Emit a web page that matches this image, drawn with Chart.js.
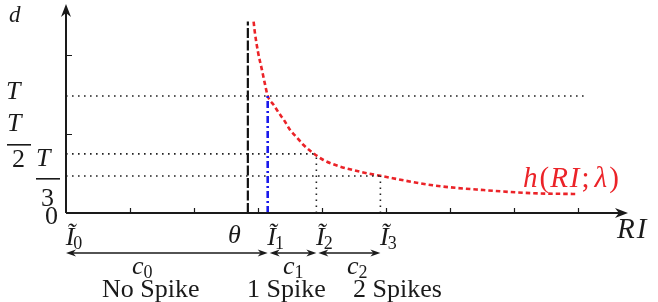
<!DOCTYPE html>
<html>
<head>
<meta charset="utf-8">
<script src="https://cdn.jsdelivr.net/npm/chart.js@4.4.1/dist/chart.umd.min.js"></script>
<style>
  body { margin: 0; background: #fff; }
  canvas { display: block; }
</style>
</head>
<body>
<canvas id="grafico" width="658" height="302"></canvas>
<script>
const grafico_canvas = document.getElementById("grafico");

// curva h(RI; lambda)
const curveX = [2.93, 2.95, 3.0, 3.06, 3.11, 3.15, 3.24, 3.32, 3.4, 3.5, 3.61, 3.71, 3.84, 4.02, 4.23, 4.6, 4.91, 5.73, 6.52, 7.3, 7.98];
const curveY = [2.42, 2.28, 2.03, 1.81, 1.62, 1.48, 1.37, 1.27, 1.18, 1.05, 0.95, 0.86, 0.77, 0.67, 0.6, 0.52, 0.47, 0.35, 0.29, 0.25, 0.24];

// marcas del eje x
const markNames = ["Ĩ0", "θ", "Ĩ1", "Ĩ2", "Ĩ3"];
const markValues = [0, 2.84, 3.15, 3.91, 4.91];
const thetaTop = 2.42;

// niveles del eje d
const levelNames = ["T", "T/2", "T/3"];
const levelValues = [1.48, 0.747, 0.468];
const levelEnds = [8.14, 3.91, 4.91];

// regiones
const regionStart = [0, 3.15, 3.91];
const regionEnd = [3.15, 3.91, 4.91];
const regionNames = ["c0", "c1", "c2"];
const regionTexts = ["No Spike", "1 Spike", "2 Spikes"];

const xTicks = [1, 2, 3, 4, 5, 6, 7, 8];
const yTicks = [1, 2];

const SERIF = '"Liberation Serif", "Times New Roman", "DejaVu Serif", serif';
const dotted = { borderColor: "#222", borderWidth: 1.6, borderDash: [1.6, 4.4], pointRadius: 0, showLine: true, fill: false };

const datasets = [];

// lineas punteadas de nivel
levelValues.forEach((v, i) => {
  datasets.push(Object.assign({ data: [{ x: 0, y: v }, { x: levelEnds[i], y: v }] }, dotted));
});
// verticales punteadas en I2, I3
[3, 4].forEach((k) => {
  datasets.push(Object.assign({ data: [{ x: markValues[k], y: 0 }, { x: markValues[k], y: levelValues[k - 2] }] }, dotted));
});
// theta
datasets.push({
  data: [{ x: markValues[1], y: 0 }, { x: markValues[1], y: thetaTop }],
  borderColor: "#111", borderWidth: 2.2, borderDash: [10, 2.5], pointRadius: 0, showLine: true,
});
// I1 azul
datasets.push({
  data: [{ x: markValues[2], y: 0 }, { x: markValues[2], y: levelValues[0] }],
  borderColor: "rgb(25,25,235)", borderWidth: 2.6, borderDash: [7, 3, 2, 3], pointRadius: 0, showLine: true,
});
// curva roja
datasets.push({
  data: curveX.map((x, i) => ({ x: x, y: curveY[i] })),
  borderColor: "rgb(235,35,40)", borderWidth: 2.6, borderDash: [4.5, 3], pointRadius: 0,
  showLine: true, cubicInterpolationMode: "monotone",
});

const arrowHead = (ctx, x, y, dir, len, half) => {
  ctx.save();
  ctx.translate(x, y);
  ctx.rotate(dir);
  ctx.beginPath();
  ctx.moveTo(0, 0);
  ctx.lineTo(-len, -half);
  ctx.lineTo(-len * 0.7, 0);
  ctx.lineTo(-len, half);
  ctx.closePath();
  ctx.fill();
  ctx.restore();
};

const drawParts = (ctx, x, y, parts) => {
  // parts: [texto, fuente, dy, extra]
  let cx = x;
  parts.forEach((p) => {
    ctx.font = p[1];
    ctx.fillText(p[0], cx, y + (p[2] || 0));
    cx += ctx.measureText(p[0]).width + (p[3] || 0);
  });
};

const decor = {
  id: "decor",
  afterDraw(chart) {
    const ctx = chart.ctx;
    const sx = chart.scales.x;
    const sy = chart.scales.y;
    const x0 = sx.getPixelForValue(0);
    const y0 = sy.getPixelForValue(0);
    const it = "italic 26px " + SERIF;
    const rm = "26px " + SERIF;
    const it29 = "italic 29px " + SERIF;
    const rm29 = "29px " + SERIF;
    const sub = "18px " + SERIF;
    ctx.save();
    ctx.fillStyle = "#1a1a1a";
    ctx.strokeStyle = "#1a1a1a";
    ctx.lineWidth = 2;
    ctx.setLineDash([]);

    // ejes
    ctx.beginPath();
    ctx.moveTo(x0, y0);
    ctx.lineTo(622, y0);
    ctx.moveTo(x0, y0);
    ctx.lineTo(x0, 10);
    ctx.stroke();
    arrowHead(ctx, 628, y0, 0, 13, 5);
    arrowHead(ctx, x0, 4, -Math.PI / 2, 13, 5);

    // ticks
    ctx.lineWidth = 1.2;
    ctx.beginPath();
    xTicks.forEach((t) => {
      const px = Math.round(sx.getPixelForValue(t)) + 0.5;
      ctx.moveTo(px, y0);
      ctx.lineTo(px, y0 - 5);
    });
    yTicks.forEach((t) => {
      const py = Math.round(sy.getPixelForValue(t)) + 0.5;
      ctx.moveTo(x0, py);
      ctx.lineTo(x0 + 6, py);
    });
    ctx.stroke();

    // etiquetas eje d
    ctx.textBaseline = "alphabetic";
    ctx.textAlign = "left";
    ctx.font = "italic 23px " + SERIF;
    ctx.fillText("d", 9, 22);
    const yT = sy.getPixelForValue(levelValues[0]);
    ctx.font = it;
    ctx.fillText(levelNames[0], 6, yT + 3);
    // T/2
    ctx.fillText("T", 7, 131);
    ctx.fillRect(7, 144, 24, 1.6);
    ctx.font = rm;
    ctx.fillText("2", 12, 167);
    // T/3
    ctx.font = it;
    ctx.fillText("T", 36, 166);
    ctx.fillRect(36, 178, 24, 1.6);
    ctx.font = rm;
    ctx.fillText("3", 41, 206);
    ctx.fillText("0", 45, 224);

    // etiquetas eje x
    markNames.forEach((name, i) => {
      const px = sx.getPixelForValue(markValues[i]);
      ctx.font = it;
      if (name === "θ") {
        ctx.textAlign = "right";
        ctx.fillText(name, px - 7, 243);
        ctx.textAlign = "left";
      } else {
        const w = ctx.measureText("Ĩ").width;
        const left = px + 4 - w / 2;
        drawParts(ctx, left, 245, [["Ĩ", it, 0, -1], [name.slice(1), sub, 4]]);
      }
    });
    drawParts(ctx, 617, 238, [["R", it29, 0, 2], ["I", it29]]);

    // h(RI; lambda)
    ctx.fillStyle = "rgb(235,35,40)";
    drawParts(ctx, 523, 187, [["h", it29, 0, 2], ["(", rm29, 0, 1], ["R", it29, 0, 2], ["I", it29, 0, 2], [";", rm29, 0, 5], ["λ", it29, 0, 2], [")", rm29]]);

    // regiones
    ctx.fillStyle = "#1a1a1a";
    ctx.strokeStyle = "#1a1a1a";
    ctx.lineWidth = 1.6;
    const ya = 253;
    regionStart.forEach((s, i) => {
      const a = sx.getPixelForValue(s) + (i > 0 ? 2 : 0);
      const b = sx.getPixelForValue(regionEnd[i]);
      ctx.beginPath();
      ctx.moveTo(a + 4, ya);
      ctx.lineTo(b - 4, ya);
      ctx.stroke();
      arrowHead(ctx, a, ya, Math.PI, 10, 3.5);
      arrowHead(ctx, b, ya, 0, 10, 3.5);
    });
    const cLeft = [132, 283, 347];
    const tLeft = [102, 247, 353];
    regionNames.forEach((n, i) => {
      drawParts(ctx, cLeft[i], 274, [["c", it], [n.slice(1), sub, 4]]);
      ctx.font = rm;
      ctx.fillText(regionTexts[i], tLeft[i], 297);
    });
    ctx.restore();
  },
};

new Chart(grafico_canvas, {
  type: "scatter",
  data: { datasets: datasets },
  options: {
    responsive: false,
    animation: false,
    devicePixelRatio: 1,
    layout: { padding: { left: 66, right: 33, top: 5, bottom: 89 } },
    plugins: { legend: { display: false }, tooltip: { enabled: false } },
    scales: {
      x: { type: "linear", min: 0, max: 8.73, display: false },
      y: { type: "linear", min: 0, max: 2.63, display: false },
    },
    elements: { line: { tension: 0 } },
  },
  plugins: [decor],
});
</script>
</body>
</html>
